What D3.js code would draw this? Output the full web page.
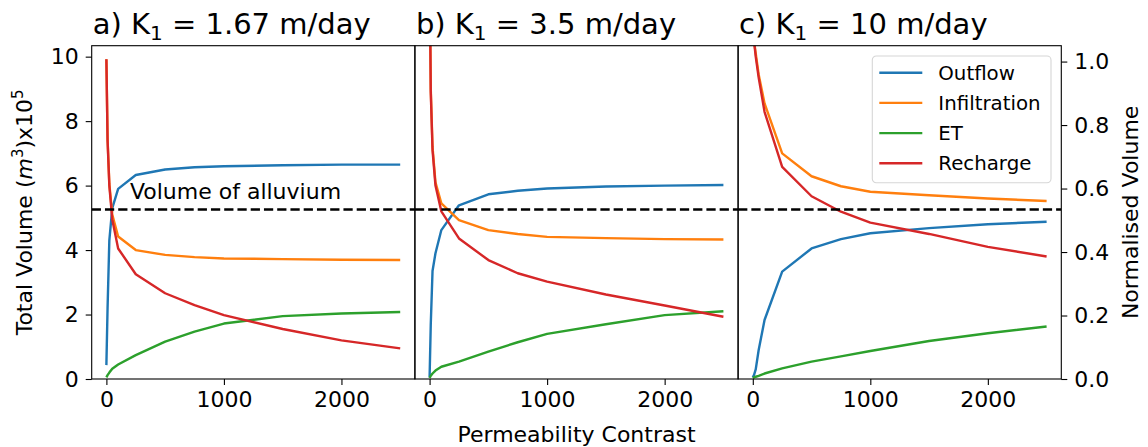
<!DOCTYPE html>
<html>
<head>
<meta charset="utf-8">
<script src="https://cdn.jsdelivr.net/npm/d3@7"></script>
<style>
    body { margin: 0; background: #fff; }
    text { font-family: "DejaVu Sans", sans-serif; fill: #000; }
</style>
</head>
<body>
<div id="chart"></div>
<script>
// permeability contrast (x) values
var contrast = [0, 10, 25, 50, 100, 250, 500, 750, 1000, 1500, 2000, 2500];

// a) K1 = 1.67 m/day
var outflowA = [0.43, 2.2, 4.3, 5.3, 5.9, 6.33, 6.5, 6.57, 6.6, 6.63, 6.65, 6.65];
var infiltrationA = [9.92, 7.45, 6.05, 5.1, 4.42, 4.0, 3.85, 3.78, 3.74, 3.72, 3.7, 3.69];
var etA = [0.05, 0.12, 0.2, 0.32, 0.45, 0.74, 1.16, 1.47, 1.72, 1.95, 2.03, 2.08];
var rechargeA = [9.92, 7.4, 6.0, 4.95, 4.05, 3.25, 2.66, 2.29, 1.98, 1.55, 1.2, 0.95];

// b) K1 = 3.5 m/day
var outflowB = [0.05, 1.7, 3.35, 3.9, 4.62, 5.39, 5.73, 5.84, 5.91, 5.97, 6.0, 6.02];
var infiltrationB = [13, 9.0, 7.2, 6.1, 5.45, 4.93, 4.62, 4.5, 4.41, 4.37, 4.34, 4.33];
var etB = [0.03, 0.1, 0.17, 0.26, 0.38, 0.54, 0.85, 1.14, 1.4, 1.7, 1.98, 2.1];
var rechargeB = [13, 8.9, 7.1, 6.0, 5.2, 4.36, 3.69, 3.28, 3.02, 2.62, 2.28, 1.93];

// c) K1 = 10 m/day
var outflowC = [0.05, 0.12, 0.3, 0.9, 1.83, 3.33, 4.05, 4.34, 4.52, 4.68, 4.8, 4.88];
var infiltrationC = [11.5, 10.5, 10.1, 9.45, 8.55, 7.0, 6.29, 5.98, 5.81, 5.7, 5.6, 5.52];
var etC = [0.03, 0.05, 0.07, 0.1, 0.17, 0.33, 0.54, 0.7, 0.87, 1.18, 1.42, 1.63];
var rechargeC = [11.5, 10.5, 10.0, 9.35, 8.29, 6.58, 5.67, 5.19, 4.85, 4.5, 4.1, 3.8];

var alluviumVolume = 5.26;

var seriesNames = ["Outflow", "Infiltration", "ET", "Recharge"];
var seriesColors = ["#1f77b4", "#ff7f0e", "#2ca02c", "#d62728"];
var panelTitles = [["a) K", "1", " = 1.67 m/day"], ["b) K", "1", " = 3.5 m/day"], ["c) K", "1", " = 10 m/day"]];
var xTicks = [0, 1000, 2000];
var leftTicks = [0, 2, 4, 6, 8, 10];
var rightTicks = [0, 0.2, 0.4, 0.6, 0.8, 1.0];

var panels = [
    [outflowA, infiltrationA, etA, rechargeA],
    [outflowB, infiltrationB, etB, rechargeB],
    [outflowC, infiltrationC, etC, rechargeC]
];

// set the dimensions of the figure and the panels
var W = 1148, H = 447;
var left0 = 91.7, panelW = 323.2, plotTop = 45.7, plotBottom = 379;

var svg = d3.select("#chart")
    .append("svg")
    .attr("width", W)
    .attr("height", H);

svg.append("rect").attr("width", W).attr("height", H).attr("fill", "#fff");

var x = d3.scaleLinear().domain([-125, 2625]).range([0, panelW]);
var y = d3.scaleLinear().domain([0, 10.34]).range([plotBottom, plotTop]);
var y2 = d3.scaleLinear().domain([0, 1.05]).range([plotBottom, plotTop]);

svg.append("defs").append("clipPath")
    .attr("id", "clip")
    .append("rect")
    .attr("x", 0).attr("y", plotTop)
    .attr("width", panelW).attr("height", plotBottom - plotTop);

function styleAxis(ax) {
    ax.select(".domain").remove();
    ax.selectAll("text").attr("font-size", null).attr("font-family", null).style("font-size", "22px");
    ax.selectAll("line").attr("stroke-width", 1.1);
}

panels.forEach(function (series, p) {
    var g = svg.append("g")
        .attr("transform", "translate(" + (left0 + p * panelW) + ",0)");

    // lines
    var plot = g.append("g").attr("clip-path", "url(#clip)");
    series.forEach(function (vals, i) {
        var line = d3.line()
            .x(function (d, k) { return x(contrast[k]); })
            .y(function (d) { return y(d); });
        plot.append("path")
            .datum(vals)
            .attr("fill", "none")
            .attr("stroke", seriesColors[i])
            .attr("stroke-width", 2.4)
            .attr("stroke-linejoin", "round")
            .attr("d", line);
    });

    // volume of alluvium
    plot.append("line")
        .attr("x1", 0).attr("x2", panelW)
        .attr("y1", y(alluviumVolume)).attr("y2", y(alluviumVolume))
        .attr("stroke", "#000")
        .attr("stroke-width", 2.5)
        .attr("stroke-dasharray", "9.25,4");

    // X axis
    var xa = g.append("g")
        .attr("transform", "translate(0," + plotBottom + ")")
        .call(d3.axisBottom(x).tickValues(xTicks).tickFormat(d3.format("d")).tickSize(6).tickPadding(6));
    styleAxis(xa);

    if (p == 0) {
        var ya = g.append("g")
            .call(d3.axisLeft(y).tickValues(leftTicks).tickFormat(d3.format("d")).tickSize(6).tickPadding(7));
        styleAxis(ya);

        g.append("text")
            .attr("x", x(200))
            .attr("y", y(alluviumVolume) - 10)
            .style("font-size", "22px")
            .text("Volume of alluvium");
    }

    if (p == 2) {
        var ya2 = g.append("g")
            .attr("transform", "translate(" + panelW + ",0)")
            .call(d3.axisRight(y2).tickValues(rightTicks).tickFormat(d3.format(".1f")).tickSize(6).tickPadding(7));
        styleAxis(ya2);

        // legend
        var lg = g.append("g").attr("transform", "translate(" + (872.3 - left0 - 2 * panelW) + ",56)");
        lg.append("rect")
            .attr("width", 178.7).attr("height", 126.7)
            .attr("rx", 4)
            .attr("fill", "#fff").attr("fill-opacity", 0.8)
            .attr("stroke", "#d6d6d6").attr("stroke-width", 1.1);
        seriesNames.forEach(function (name, i) {
            var ry = 16.7 + i * 30.2;
            lg.append("line")
                .attr("x1", 7).attr("x2", 50)
                .attr("y1", ry).attr("y2", ry)
                .attr("stroke", seriesColors[i])
                .attr("stroke-width", 2.4);
            lg.append("text")
                .attr("x", 66).attr("y", ry)
                .attr("dy", "0.35em")
                .style("font-size", "19.8px")
                .text(name);
        });
    }

    // frame
    g.append("rect")
        .attr("x", 0).attr("y", plotTop)
        .attr("width", panelW).attr("height", plotBottom - plotTop)
        .attr("fill", "none")
        .attr("stroke", "#000")
        .attr("stroke-width", 1.1);

    // title with subscript, left aligned on the panel
    var t = g.append("text")
        .attr("x", 1)
        .attr("y", 34)
        .attr("text-anchor", "start")
        .style("font-size", "29px");
    t.append("tspan").text(panelTitles[p][0]);
    t.append("tspan").attr("dy", 6).style("font-size", "20px").text(panelTitles[p][1]);
    t.append("tspan").attr("dy", -6).text(panelTitles[p][2]);
});

// axis labels
svg.append("text")
    .attr("x", left0 + 1.5 * panelW)
    .attr("y", 442)
    .attr("text-anchor", "middle")
    .style("font-size", "22px")
    .text("Permeability Contrast");

var yl = svg.append("text")
    .attr("transform", "translate(32," + ((plotTop + plotBottom) / 2) + ") rotate(-90)")
    .attr("text-anchor", "middle")
    .style("font-size", "22px");
yl.append("tspan").text("Total Volume (");
yl.append("tspan").style("font-style", "italic").text("m");
yl.append("tspan").attr("dy", -9).style("font-size", "15px").text("3");
yl.append("tspan").attr("dy", 9).text(")x10");
yl.append("tspan").attr("dy", -9).style("font-size", "15px").text("5");

svg.append("text")
    .attr("transform", "translate(1138," + ((plotTop + plotBottom) / 2) + ") rotate(-90)")
    .attr("text-anchor", "middle")
    .style("font-size", "22px")
    .text("Normalised Volume");
</script>
</body>
</html>
